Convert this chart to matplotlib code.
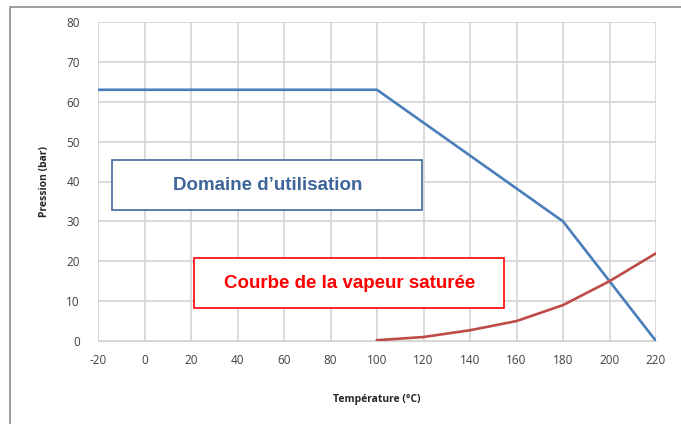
import matplotlib.pyplot as plt
from matplotlib.patches import Rectangle

# donnees
temp_bleu = [-20, 0, 20, 40, 60, 80, 100, 120, 140, 160, 180, 200, 220]
pression_bleu = [63, 63, 63, 63, 63, 63, 63, 54.75, 46.5, 38.25, 30, 15, 0]

temp_rouge = [100, 120, 140, 160, 180, 200, 220]
pression_rouge = [0.2, 1, 2.7, 5, 9, 15, 22]

xticks = list(range(-20, 240, 20))
yticks = list(range(0, 90, 10))

plt.rcParams['font.family'] = ['Open Sans', 'DejaVu Sans']
plt.rcParams['axes.unicode_minus'] = False

fig = plt.figure(figsize=(6.81, 4.24), dpi=100)
ax = fig.add_axes([98/681, 1-341/424, (656-98)/681, (341-22)/424])

ax.plot(temp_bleu, pression_bleu, color='#4a7ebb', lw=1.9, zorder=3)
ax.plot(temp_rouge, pression_rouge, color='#be4b48', lw=1.9, zorder=3)

ax.set_xlim(-20, 220)
ax.set_ylim(0, 80)
ax.set_xticks(xticks)
ax.set_yticks(yticks)
ax.grid(True, color='#d4d4d4', lw=1.2)
ax.set_axisbelow(True)
for s in ax.spines.values():
    s.set_visible(False)
ax.spines['bottom'].set_visible(True)
ax.spines['bottom'].set_color('#d4d4d4')
ax.tick_params(length=0, labelsize=8.5, labelcolor='#404040')
ax.tick_params(axis='x', pad=9)
ax.tick_params(axis='y', pad=13)
ax.set_xlabel('Température (°C)', fontsize=7.5, fontweight='bold', color='#262626', labelpad=20)
ax.set_ylabel('Pression (bar)', fontsize=7.5, fontweight='bold', color='#262626', labelpad=12)

# cadres de texte
fam = ['Liberation Sans Narrow', 'Liberation Sans', 'DejaVu Sans']
fig.patches.append(Rectangle((112/681, 1-210/424), 310/681, 50/424, transform=fig.transFigure,
                             fill=True, fc='white', ec='#41689c', lw=1.2, zorder=5))
fig.text(268/681, 1-186/424, 'Domaine d\u2019utilisation', family=fam, fontsize=13.5,
         fontweight='bold', color='#3f659a', ha='center', va='center', zorder=6)
fig.patches.append(Rectangle((194/681, 1-308/424), 310/681, 50/424, transform=fig.transFigure,
                             fill=True, fc='white', ec='#ff0000', lw=1.2, zorder=5))
fig.text(350/681, 1-284/424, 'Courbe de la vapeur saturée', family=fam, fontsize=13.5,
         fontweight='bold', color='#ff0000', ha='center', va='center', zorder=6)

# bordure exterieure
fig.patches.append(Rectangle((10/681, -0.05), 1.0, 1-7/424+0.05, transform=fig.transFigure,
                             fill=False, ec='#8c8c8c', lw=1.2))

fig.savefig('out.png', dpi=100)
